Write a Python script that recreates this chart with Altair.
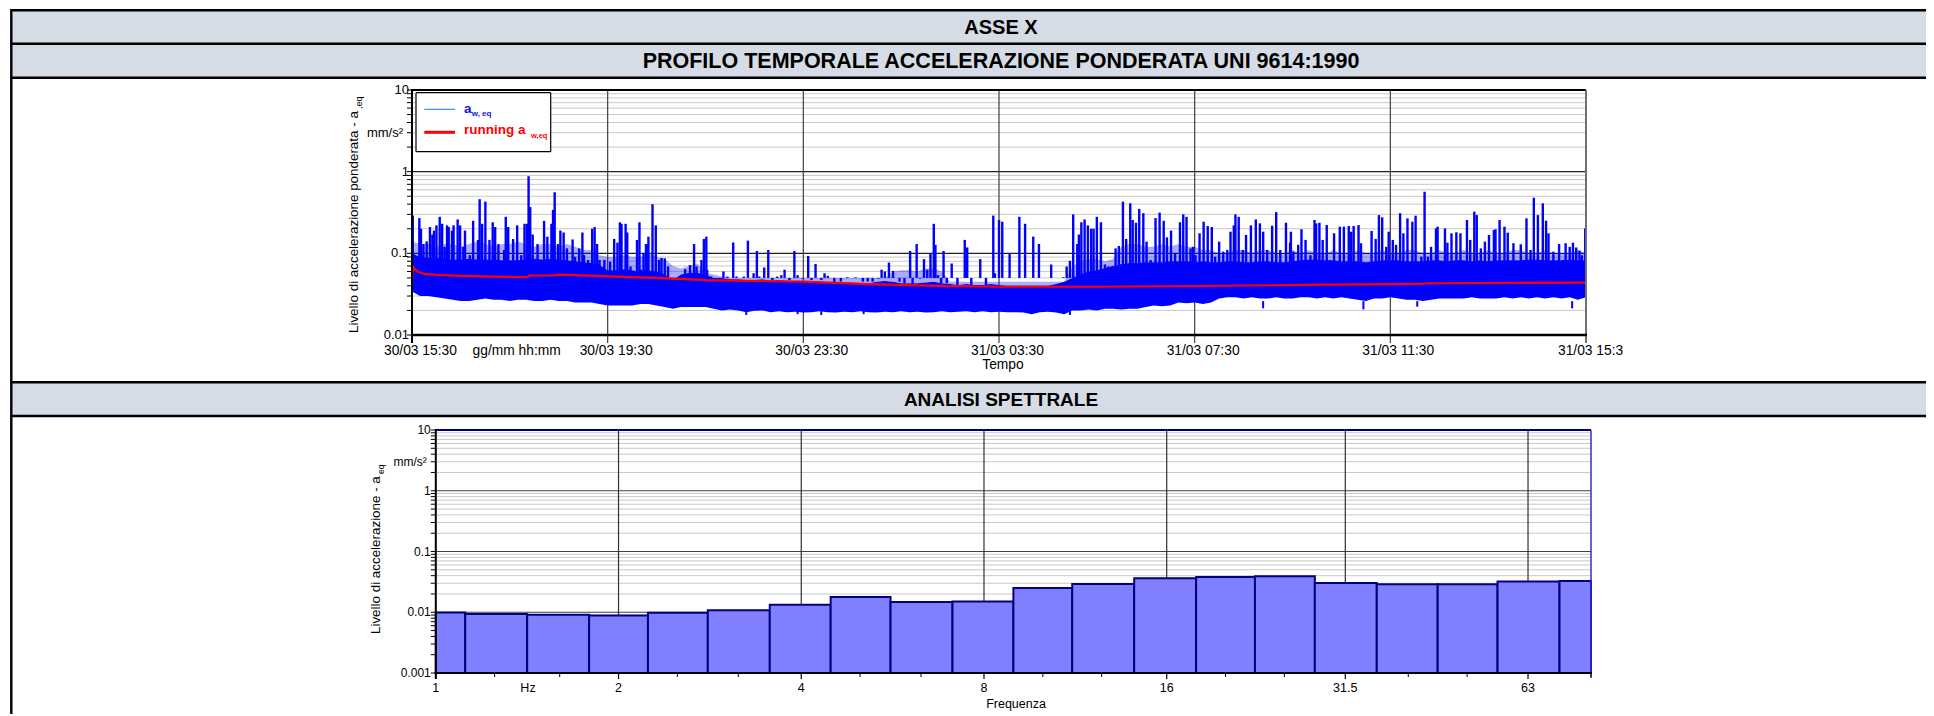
import altair as alt
import pandas as pd

# ---------------- time profile data (minutes from 30/03 15:30) ----------------
band_step = 10
band_lo = [0.034, 0.030, 0.030, 0.029, 0.028, 0.027, 0.026, 0.026, 0.027, 0.028,
           0.027, 0.027, 0.026, 0.027, 0.027, 0.026, 0.026, 0.027, 0.026, 0.026,
           0.025, 0.025, 0.025, 0.024, 0.023, 0.023, 0.023, 0.023, 0.024, 0.024,
           0.023, 0.022, 0.021, 0.022, 0.022, 0.022,
           0.022, 0.021, 0.020, 0.0205, 0.020, 0.019, 0.0198, 0.020, 0.019, 0.0195,
           0.019, 0.0192, 0.0188, 0.019, 0.0195, 0.019, 0.0188, 0.0192, 0.019, 0.0195,
           0.019, 0.0188, 0.0192, 0.019, 0.0195, 0.019, 0.0192, 0.0188, 0.019, 0.0195,
           0.019, 0.0192, 0.0195, 0.019, 0.0195, 0.019, 0.0192,
           0.019, 0.019, 0.0188, 0.018, 0.019, 0.0192, 0.0188, 0.018,
           0.020, 0.020, 0.0205, 0.020, 0.021, 0.021, 0.0205, 0.021, 0.021,
           0.022, 0.023, 0.0225, 0.023,
           0.025, 0.0245, 0.025, 0.024, 0.025,
           0.028, 0.029, 0.029, 0.028, 0.029, 0.028, 0.028, 0.029, 0.028, 0.028,
           0.029, 0.029, 0.028, 0.029, 0.028, 0.029, 0.028, 0.027, 0.026, 0.028,
           0.028, 0.029, 0.028, 0.027, 0.027, 0.026, 0.027, 0.028, 0.028, 0.028,
           0.028, 0.029, 0.028, 0.028, 0.028, 0.029, 0.028, 0.029, 0.028, 0.029,
           0.028, 0.029, 0.028, 0.029, 0.027, 0.029]
band_hi = [0.10, 0.09, 0.088, 0.088, 0.085, 0.084, 0.084, 0.086, 0.084, 0.084,
           0.084, 0.082, 0.082, 0.082, 0.084, 0.086, 0.084, 0.086, 0.084, 0.082,
           0.08, 0.078, 0.076, 0.072, 0.062, 0.062, 0.064, 0.062, 0.06, 0.062,
           0.06, 0.055, 0.047, 0.055, 0.058, 0.058,
           0.055, 0.05, 0.05, 0.048, 0.048, 0.047, 0.047, 0.048, 0.046, 0.047,
           0.046, 0.045, 0.046, 0.045, 0.045, 0.044, 0.043, 0.044, 0.044, 0.043,
           0.043, 0.045, 0.046, 0.045, 0.043, 0.043, 0.043, 0.044, 0.045, 0.043,
           0.042, 0.041, 0.042, 0.041, 0.041, 0.042, 0.041,
           0.040, 0.040, 0.040, 0.040, 0.040, 0.040, 0.042, 0.045,
           0.05, 0.056, 0.06, 0.062, 0.066, 0.07, 0.074, 0.076, 0.076,
           0.078, 0.078, 0.078, 0.08,
           0.08, 0.08, 0.078, 0.08, 0.078,
           0.078, 0.08, 0.08, 0.078, 0.078, 0.08, 0.08, 0.078, 0.078, 0.08,
           0.082, 0.084, 0.084, 0.082, 0.082, 0.08, 0.08, 0.08, 0.078, 0.08,
           0.082, 0.082, 0.082, 0.08, 0.08, 0.08, 0.082, 0.082, 0.08, 0.082,
           0.082, 0.08, 0.082, 0.08, 0.082, 0.082, 0.082, 0.082, 0.084, 0.084,
           0.082, 0.082, 0.082, 0.084, 0.082, 0.082]
# level reached by the dense forest of smaller peaks (same 10-minute steps)
forest_hi = [0.14, 0.13, 0.13, 0.12, 0.13, 0.13, 0.12, 0.13, 0.14, 0.13,
             0.12, 0.13, 0.13, 0.14, 0.13, 0.12, 0.13, 0.13, 0.12, 0.13,
             0.12, 0.11, 0.11,
             0.095, 0.09, 0.09, 0.095, 0.09, 0.09, 0.10, 0.09, 0.085, 0.07,
             0.065, 0.07, 0.075,
             0.058, 0.055, 0.052, 0.05, 0.05, 0.05, 0.05, 0.05, 0.05, 0.05,
             0.05, 0.05, 0.05, 0.05, 0.05, 0.05, 0.05, 0.05, 0.05, 0.05,
             0.05, 0.05, 0.05,
             0.06, 0.062, 0.062, 0.06, 0.065, 0.065, 0.06,
             0.045, 0.045, 0.045, 0.045, 0.045, 0.045, 0.045, 0.045, 0.045, 0.045,
             0.045, 0.045, 0.045, 0.045, 0.045,
             0.07, 0.08, 0.085, 0.085, 0.08, 0.085,
             0.12, 0.13, 0.13, 0.12, 0.12, 0.13, 0.12, 0.13, 0.12, 0.12,
             0.11, 0.11, 0.10, 0.10, 0.11, 0.11, 0.10, 0.11, 0.11, 0.10, 0.10, 0.11,
             0.10, 0.11, 0.10, 0.10, 0.11, 0.10, 0.10, 0.11, 0.10, 0.10,
             0.11, 0.10, 0.10, 0.11, 0.11, 0.10, 0.10, 0.11, 0.10, 0.10,
             0.11, 0.10, 0.10, 0.11, 0.10, 0.10, 0.11, 0.11, 0.10, 0.10,
             0.11, 0.10, 0.10, 0.10, 0.11, 0.10]

spikes = [
    (1, 0.29), (9, 0.27), (11, 0.20), (14, 0.13), (18, 0.14), (22, 0.21), (25, 0.17), (27, 0.19),
    (30, 0.22), (34, 0.28), (37, 0.23), (40, 0.12), (43, 0.22), (45, 0.21), (49, 0.19), (51, 0.22),
    (56, 0.26), (59, 0.22), (63, 0.12), (65, 0.19), (71, 0.095), (75, 0.25), (81, 0.146), (83, 0.46),
    (86, 0.23), (90, 0.43), (95, 0.146), (99, 0.24), (102, 0.21), (106, 0.13), (113, 0.11), (115, 0.28),
    (118, 0.21), (124, 0.15), (129, 0.22), (134, 0.095), (138, 0.23), (141, 0.23), (143, 0.88), (145, 0.37),
    (148, 0.17), (154, 0.13), (157, 0.083), (162, 0.25), (166, 0.16), (168, 0.075), (171, 0.23), (173, 0.34),
    (175, 0.56), (179, 0.13), (182, 0.19), (186, 0.18), (190, 0.115), (197, 0.148), (200, 0.091), (205, 0.115),
    (209, 0.18), (211, 0.095), (216, 0.083), (221, 0.20), (224, 0.21), (227, 0.13), (230, 0.083), (236, 0.083),
    (243, 0.079), (248, 0.15), (252, 0.135), (255, 0.24), (257, 0.23), (262, 0.23), (264, 0.18), (268, 0.069),
    (276, 0.146), (279, 0.24), (281, 0.063), (284, 0.10), (287, 0.13), (288, 0.13), (290, 0.16), (295, 0.40),
    (299, 0.22), (303, 0.083), (306, 0.088), (310, 0.087), (314, 0.069), (318, 0.047), (322, 0.039), (326, 0.045),
    (335, 0.064), (341, 0.072), (346, 0.13), (349, 0.069), (355, 0.083), (358, 0.15), (361, 0.16),
    (362, 0.063), (367, 0.052), (382, 0.06), (387, 0.052), (394, 0.136), (398, 0.052), (407, 0.052), (412, 0.143),
    (419, 0.057), (423, 0.107), (426, 0.052), (432, 0.067), (437, 0.11), (442, 0.047), (448, 0.052), (453, 0.054),
    (457, 0.063), (463, 0.047), (469, 0.107), (473, 0.054), (479, 0.049), (486, 0.093), (490, 0.047), (495, 0.074),
    (502, 0.047), (506, 0.057), (510, 0.053), (518, 0.043), (526, 0.045), (534, 0.051), (544, 0.051), (553, 0.045),
    (559, 0.045), (565, 0.045), (572, 0.049), (576, 0.063), (580, 0.06), (585, 0.077), (590, 0.061), (598, 0.045),
    (604, 0.043), (611, 0.107), (614, 0.041), (619, 0.13), (623, 0.049), (628, 0.085), (632, 0.063), (636, 0.10),
    (640, 0.23), (642, 0.127), (645, 0.054), (649, 0.043), (652, 0.107), (656, 0.043), (662, 0.075), (669, 0.039),
    (678, 0.146), (681, 0.118), (686, 0.041), (697, 0.085), (704, 0.037), (713, 0.29), (715, 0.057), (720, 0.256),
    (724, 0.244), (733, 0.098), (745, 0.28), (752, 0.23), (762, 0.16), (769, 0.13), (784, 0.073), (799, 0.051),
    (803, 0.069), (807, 0.081), (811, 0.30), (816, 0.13), (818, 0.17), (821, 0.24), (825, 0.26), (829, 0.22),
    (833, 0.20), (836, 0.20), (840, 0.28), (845, 0.24), (850, 0.073), (854, 0.069), (859, 0.069), (863, 0.115),
    (867, 0.123), (872, 0.43), (876, 0.15), (881, 0.41), (884, 0.256), (888, 0.237), (892, 0.35), (897, 0.31),
    (901, 0.139), (906, 0.083), (912, 0.27), (917, 0.315), (922, 0.25), (926, 0.157), (931, 0.19), (936, 0.10),
    (942, 0.24), (946, 0.30), (950, 0.28), (955, 0.115), (958, 0.12), (961, 0.095), (966, 0.176), (971, 0.244),
    (976, 0.216), (981, 0.21), (985, 0.091), (990, 0.139), (995, 0.105), (1000, 0.11), (1004, 0.184), (1008, 0.22),
    (1010, 0.30), (1014, 0.28), (1019, 0.11), (1023, 0.168), (1029, 0.22), (1035, 0.26), (1040, 0.233), (1044, 0.184),
    (1049, 0.11), (1055, 0.218), (1060, 0.32), (1065, 0.11), (1072, 0.237), (1077, 0.135), (1078, 0.184), (1081, 0.105),
    (1087, 0.127), (1091, 0.197), (1096, 0.146), (1102, 0.095), (1107, 0.256), (1109, 0.233), (1113, 0.237), (1117, 0.146),
    (1122, 0.222), (1126, 0.083), (1131, 0.176), (1138, 0.212), (1143, 0.212), (1149, 0.216), (1152, 0.184), (1155, 0.216),
    (1161, 0.222), (1164, 0.133), (1168, 0.07), (1172, 0.075), (1177, 0.188), (1182, 0.15), (1186, 0.294), (1190, 0.276),
    (1195, 0.12), (1198, 0.184), (1203, 0.146), (1207, 0.127), (1212, 0.31), (1216, 0.176), (1221, 0.268), (1227, 0.244),
    (1231, 0.289), (1238, 0.091), (1242, 0.568), (1246, 0.091), (1250, 0.12), (1256, 0.202), (1258, 0.212), (1267, 0.202),
    (1270, 0.135), (1275, 0.176), (1281, 0.181), (1286, 0.176), (1294, 0.256), (1298, 0.146), (1303, 0.324), (1306, 0.294),
    (1311, 0.115), (1316, 0.139), (1321, 0.168), (1327, 0.193), (1329, 0.197), (1334, 0.256), (1340, 0.212), (1344, 0.179),
    (1351, 0.133), (1360, 0.129), (1367, 0.268), (1372, 0.11), (1376, 0.48), (1381, 0.294), (1387, 0.409), (1391, 0.251),
    (1394, 0.176), (1400, 0.105), (1407, 0.13), (1412, 0.083), (1415, 0.133), (1420, 0.12), (1424, 0.135), (1428, 0.118),
    (1432, 0.108), (1435, 0.095), (1439, 0.202),
]
dips = [(410, 0.0176), (473, 0.018), (502, 0.0176), (554, 0.018), (807, 0.0176),
        (1044, 0.0212), (1167, 0.0206), (1233, 0.0222), (1423, 0.0212)]

run_min = [0, 1, 2, 4, 8, 15, 30, 60, 100, 142, 144, 176, 178, 200, 250, 300, 360, 480, 560,
           645, 725, 845, 965, 1090, 1200, 1242, 1244, 1440]
run_val = [0.045, 0.063, 0.067, 0.063, 0.059, 0.056, 0.0545, 0.053, 0.052, 0.051, 0.0535, 0.0535,
           0.055, 0.054, 0.052, 0.050, 0.047, 0.045, 0.042, 0.040, 0.039, 0.039, 0.0398, 0.041,
           0.042, 0.0425, 0.043, 0.0437]

time_ticks = [0, 240, 480, 720, 960, 1200, 1440]
time_labels = ["30/03 15:30", "30/03 19:30", "30/03 23:30", "31/03 03:30",
               "31/03 07:30", "31/03 11:30", "31/03 15:3"]
acc_ticks = [10, 1, 0.1, 0.01]
acc_labels = ["10", "1", "0.1", "0.01"]

# ---------------- spectrum data ----------------
freq_bands = [1, 1.25, 1.6, 2, 2.5, 3.15, 4, 5, 6.3, 8, 10, 12.5, 16, 20, 25, 31.5, 40, 50, 63, 80]
freq_values = [0.0099, 0.0094, 0.0091, 0.0088, 0.0098, 0.0108, 0.0133, 0.0178, 0.0147, 0.0151,
               0.0251, 0.0292, 0.0363, 0.0382, 0.0392, 0.0304, 0.0289, 0.0289, 0.0320, 0.0328]
freq_ticks = [1, 2, 4, 8, 16, 31.5, 63]
freq_labels = ["1", "2", "4", "8", "16", "31.5", "63"]
freq_minor = [1.25, 1.6, 2.5, 3.15, 5, 6.3, 10, 12.5, 20, 25, 40, 50, 80]
spec_ticks = [10, 1, 0.1, 0.01, 0.001]
spec_labels = ["10", "1", "0.1", "0.01", "0.001"]

# ---------------- layout (pixels inside the chart) ----------------
W, H = 1918, 706
T_X0, T_X1, T_Y0, T_Y1 = 404, 1578, 82, 327
B_X0, B_X1, B_Y0, B_Y1 = 427.8, 1583, 422, 665
FONT = "Liberation Sans, Arial, sans-serif"
HFONT = "Liberation Sans, Arial, sans-serif"
HEAD_FILL = "#D6DCE5"

X1 = alt.Scale(domain=[0, 1440], range=[T_X0, T_X1], nice=False, zero=False)
Y1 = alt.Scale(type="log", domain=[0.01, 10], range=[T_Y1, T_Y0], nice=False)
X2 = alt.Scale(type="log", domain=[1, 80], range=[B_X0, B_X1], nice=False, clamp=True)
Y2 = alt.Scale(type="log", domain=[0.001, 10], range=[B_Y1, B_Y0], nice=False)

one = pd.DataFrame({"k": [0]})


def rect_px(x, x2, y, y2, fill):
    return alt.Chart(one).mark_rect(fill=fill).encode(
        x=alt.value(x), x2=alt.value(x2), y=alt.value(y), y2=alt.value(y2))


def rule_px(x, x2, y, y2, color, w):
    return alt.Chart(one).mark_rule(color=color, strokeWidth=w).encode(
        x=alt.value(x), x2=alt.value(x2), y=alt.value(y), y2=alt.value(y2))


def text_px(t, x, y, size, color="black", font=FONT, weight="normal",
            align="center", baseline="middle", angle=0):
    return alt.Chart(pd.DataFrame({"t": [t]})).mark_text(
        fontSize=size, font=font, fontWeight=weight, color=color,
        align=align, baseline=baseline, angle=angle).encode(
        x=alt.value(x), y=alt.value(y), text="t:N")


def hgrid(vals, yscale, x0, x1, color, w):
    return alt.Chart(pd.DataFrame({"v": vals})).mark_rule(color=color, strokeWidth=w).encode(
        y=alt.Y("v:Q", scale=yscale, axis=None), x=alt.value(x0), x2=alt.value(x1))


def vgrid(vals, xscale, y0, y1, color, w):
    return alt.Chart(pd.DataFrame({"v": vals})).mark_rule(color=color, strokeWidth=w).encode(
        x=alt.X("v:Q", scale=xscale, axis=None), y=alt.value(y0), y2=alt.value(y1))


def minor_vals(decades):
    return [m * d for d in decades for m in range(2, 10)]


layers = []

# ---------------- table (document frame) ----------------
layers += [
    rect_px(3, W, 2, 36, HEAD_FILL),
    rect_px(3, W, 36, 70, HEAD_FILL),
    rect_px(3, W, 374, 408, HEAD_FILL),
    text_px("ASSE X", 993, 20, 20, font=HFONT, weight="bold"),
    text_px("PROFILO TEMPORALE ACCELERAZIONE PONDERATA UNI 9614:1990", 993, 54, 21.5, font=HFONT, weight="bold"),
    text_px("ANALISI SPETTRALE", 993, 392, 19, font=HFONT, weight="bold"),
]
for yb in [2.3, 35.7, 69.7, 374.2, 408]:
    layers.append(rule_px(2.3, W, yb, yb, "black", 2.4))
layers.append(rule_px(3.3, 3.3, 1.1, H, "black", 2.4))

# ---------------- top chart: time profile ----------------
layers += [
    hgrid(minor_vals([0.01, 0.1, 1]), Y1, T_X0, T_X1, "#C8C8C8", 1),
    hgrid([0.1, 1], Y1, T_X0, T_X1, "#202020", 1.2),
    vgrid(time_ticks[1:-1], X1, T_Y0, T_Y1 + 8, "#404040", 1.2),
]

df_band = pd.DataFrame({"m": [i * band_step for i in range(len(band_lo))],
                        "lo": band_lo, "hi": band_hi, "fh": forest_hi})
df_band["fh"] = df_band[["fh", "hi"]].max(axis=1)
df_spk = pd.DataFrame(spikes, columns=["m", "v"])
df_dip = pd.DataFrame(dips, columns=["m", "v"])
df_run = pd.DataFrame({"m": run_min, "v": run_val})

layers += [
    alt.Chart(df_band).mark_area(color="#0000FF", opacity=0.33).encode(
        x=alt.X("m:Q", scale=X1, axis=None),
        y=alt.Y("hi:Q", scale=Y1, axis=None), y2="fh:Q"),
    alt.Chart(df_band).mark_area(color="#0000FF", opacity=1).encode(
        x=alt.X("m:Q", scale=X1, axis=None),
        y=alt.Y("lo:Q", scale=Y1, axis=None), y2="hi:Q"),
    alt.Chart(df_spk).mark_rule(color="#0000FF", strokeWidth=2.4).encode(
        x=alt.X("m:Q", scale=X1, axis=None),
        y=alt.Y("v:Q", scale=Y1, axis=None), y2=alt.Y2Datum(0.05)),
    alt.Chart(df_dip).mark_rule(color="#0000FF", strokeWidth=2).encode(
        x=alt.X("m:Q", scale=X1, axis=None),
        y=alt.Y("v:Q", scale=Y1, axis=None), y2=alt.Y2Datum(0.026)),
    alt.Chart(df_run).mark_line(color="#FF0000", strokeWidth=2.2).encode(
        x=alt.X("m:Q", scale=X1, axis=None),
        y=alt.Y("v:Q", scale=Y1, axis=None)),
]

# frame and axes of the top chart
layers += [
    rule_px(T_X0, T_X1, T_Y0, T_Y0, "black", 2),
    rule_px(T_X1, T_X1, T_Y0, T_Y1 + 8, "#707070", 2),
    rule_px(T_X0, T_X1 + 1, T_Y1, T_Y1, "black", 2.5),
    rule_px(T_X0, T_X0, T_Y0 - 1, T_Y1 + 8, "black", 2),
    hgrid(minor_vals([0.01, 0.1, 1]) + acc_ticks, Y1, T_X0 - 5, T_X0, "black", 1),
    alt.Chart(pd.DataFrame({"v": acc_ticks, "t": acc_labels})).mark_text(
        fontSize=13, font=FONT, align="right", baseline="middle").encode(
        y=alt.Y("v:Q", scale=Y1, axis=None), x=alt.value(T_X0 - 3), text="t:N"),
    text_px("mm/s²", T_X0 - 9, 124.7, 13, align="right"),
    alt.Chart(pd.DataFrame({"v": time_ticks, "t": time_labels})).mark_text(
        fontSize=13.8, font=FONT, align="left", baseline="middle", dx=-28).encode(
        x=alt.X("v:Q", scale=X1, axis=None), y=alt.value(343), text="t:N"),
    text_px("gg/mm hh:mm", 464.6, 343, 13.8, align="left"),
    text_px("Tempo", 995, 357, 13.8),
    text_px("Livello di accelerazione ponderata - a", 346, 325, 13.4, align="left", angle=270),
    text_px(",eq", 351, 101, 9, align="left", angle=270),
]

# legend box
layers += [
    rect_px(408, 542.7, 84.7, 143.7, "white"),
    rule_px(408, 542.7, 84.7, 84.7, "black", 1.2),
    rule_px(408, 542.7, 143.7, 143.7, "black", 1.2),
    rule_px(408, 408, 84.7, 143.7, "black", 1.2),
    rule_px(542.7, 542.7, 84.7, 143.7, "black", 1.2),
    rule_px(416.3, 447, 101.3, 101.3, "#1E6EFF", 1),
    rule_px(416.3, 447, 124.3, 124.3, "#FF0000", 3),
    text_px("a", 456, 105.3, 13.5, color="#1010F0", weight="bold", align="left", baseline="alphabetic"),
    text_px("w, eq", 463.7, 107.5, 8, color="#1010F0", weight="bold", align="left", baseline="alphabetic"),
    text_px("running a", 456, 126.3, 13.5, color="#FF0000", weight="bold", align="left", baseline="alphabetic"),
    text_px("w,eq", 523, 129.5, 7.5, color="#FF0000", weight="bold", align="left", baseline="alphabetic"),
]

# ---------------- bottom chart: spectrum ----------------
edges = [(a * b) ** 0.5 for a, b in zip(freq_bands[:-1], freq_bands[1:])]
df_bars = pd.DataFrame({
    "lo": [freq_bands[0] ** 2 / edges[0]] + edges,
    "hi": edges + [freq_bands[-1] ** 2 / edges[-1]],
    "v": freq_values,
})

layers += [
    hgrid(minor_vals([0.001, 0.01, 0.1, 1]), Y2, B_X0, B_X1, "#C8C8C8", 1),
    hgrid([0.01, 0.1, 1], Y2, B_X0, B_X1, "#404040", 1.2),
    vgrid(freq_ticks[1:], X2, B_Y0, B_Y1, "#303030", 1.2),
    alt.Chart(df_bars).mark_rect(fill="#8080FF", stroke="#000080", strokeWidth=2).encode(
        x=alt.X("lo:Q", scale=X2, axis=None), x2="hi:Q",
        y=alt.Y("v:Q", scale=Y2, axis=None), y2=alt.Y2Datum(0.001)),
    rule_px(B_X0, B_X1, B_Y0, B_Y0, "#000070", 2.2),
    rule_px(B_X1, B_X1, B_Y0, B_Y1 + 5, "#3030C0", 1.5),
    rule_px(B_X0 - 1, B_X1 + 1, B_Y1, B_Y1, "black", 2),
    rule_px(B_X0, B_X0, B_Y0 - 1, B_Y1 + 6, "black", 2),
    hgrid(minor_vals([0.001, 0.01, 0.1, 1]) + spec_ticks, Y2, B_X0 - 5, B_X0, "black", 1),
    vgrid(freq_ticks, X2, B_Y1, B_Y1 + 6, "black", 1.2),
    vgrid(freq_minor, X2, B_Y1, B_Y1 + 4, "black", 1),
    alt.Chart(pd.DataFrame({"v": spec_ticks, "t": spec_labels})).mark_text(
        fontSize=12, font=FONT, align="right", baseline="middle").encode(
        y=alt.Y("v:Q", scale=Y2, axis=None), x=alt.value(B_X0 - 5), text="t:N"),
    text_px("mm/s²", B_X0 - 9, 453.7, 12, align="right"),
    alt.Chart(pd.DataFrame({"v": freq_ticks, "t": freq_labels})).mark_text(
        fontSize=12.5, font=FONT, align="center", baseline="middle").encode(
        x=alt.X("v:Q", scale=X2, axis=None), y=alt.value(680), text="t:N"),
    text_px("Hz", 520, 680, 12.5),
    text_px("Frequenza", 1008, 696, 12.5),
    text_px("Livello di accelerazione - a", 368, 626, 13.4, align="left", angle=270),
    text_px("eq", 373, 466, 8.5, align="left", angle=270),
]

chart = alt.layer(*layers).resolve_scale(x="independent", y="independent").properties(
    width=W, height=H, autosize=alt.AutoSizeParams(type="none"), padding=0,
    background="white",
).configure_view(stroke=None)

chart.save("out.html", embed_options={"renderer": "svg", "actions": False})
